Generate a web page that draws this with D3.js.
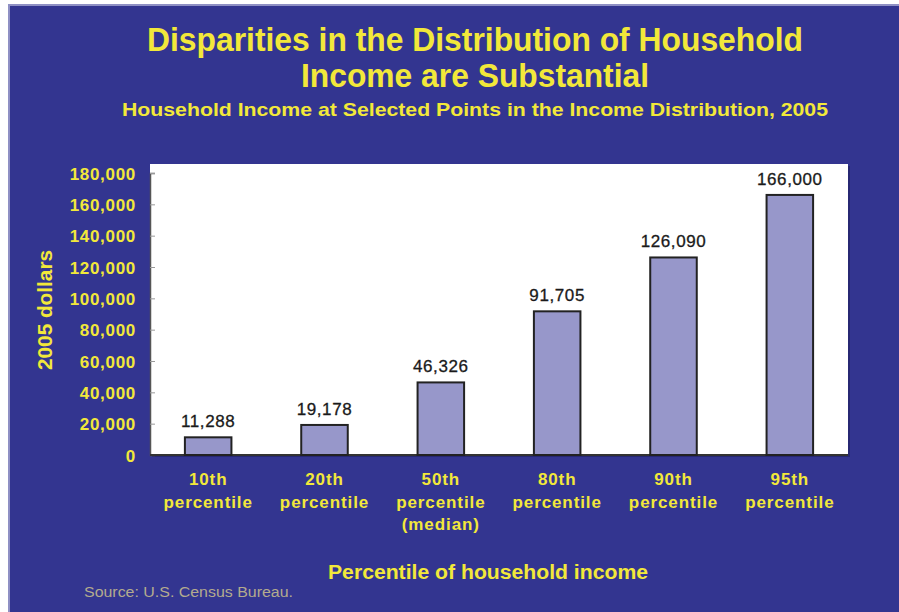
<!DOCTYPE html>
<html>
<head>
<meta charset="utf-8">
<script src="https://cdn.jsdelivr.net/npm/d3@7"></script>
<style>
  html, body { margin: 0; padding: 0; background: #ffffff; }
  svg { display: block; }
</style>
</head>
<body>
<svg id="chart" width="899" height="612"></svg>
<script>
// Household income at selected points of the 2005 distribution
const categories = ["10th", "20th", "50th", "80th", "90th", "95th"];
const categoryLines = [
  ["10th", "percentile"],
  ["20th", "percentile"],
  ["50th", "percentile", "(median)"],
  ["80th", "percentile"],
  ["90th", "percentile"],
  ["95th", "percentile"]
];
const incomes = [11288, 19178, 46326, 91705, 126090, 166000];
const yTicks = [0, 20000, 40000, 60000, 80000, 100000, 120000, 140000, 160000, 180000];

const titleLines = ["Disparities in the Distribution of Household", "Income are Substantial"];
const subtitle = "Household Income at Selected Points in the Income Distribution, 2005";
const yTitle = "2005 dollars";
const xTitle = "Percentile of household income";
const source = "Source: U.S. Census Bureau.";

const W = 899, H = 612;
const YELLOW = "#f2e83a";
const BG = "#333590";
const FONT = "Liberation Sans, Arial, sans-serif";

const svg = d3.select("#chart");

// Blue panel with a soft light edge on top and left
svg.append("rect").attr("x", 8).attr("y", 4).attr("width", W - 8).attr("height", H - 4)
  .attr("fill", "#8f90c4");
svg.append("rect").attr("x", 10).attr("y", 6).attr("width", W - 10).attr("height", H - 6)
  .attr("fill", BG);

// Plot frame
const plot = { left: 150, right: 848, top: 164, bottom: 455 };

const x = d3.scaleBand()
  .domain(categories)
  .range([plot.left, plot.right])
  .paddingInner(0.6)
  .paddingOuter(0.3);

const y = d3.scaleLinear()
  .domain([0, 180000])
  .range([plot.bottom, 173]);

// Shadow and white plot area
svg.append("rect")
  .attr("x", plot.left + 2).attr("y", plot.top + 2)
  .attr("width", plot.right - plot.left).attr("height", plot.bottom - plot.top)
  .attr("fill", "#1f2060").attr("opacity", 0.6);
svg.append("rect")
  .attr("x", plot.left).attr("y", plot.top)
  .attr("width", plot.right - plot.left).attr("height", plot.bottom - plot.top)
  .attr("fill", "#ffffff");

// Y axis: inward grey ticks, yellow labels
const yAxis = d3.axisLeft(y)
  .tickValues(yTicks)
  .tickSize(-5)
  .tickPadding(14)
  .tickFormat(d3.format(","));
const gy = svg.append("g").attr("transform", `translate(${plot.left},0)`).call(yAxis);
gy.select(".domain").attr("stroke", "#555555").attr("stroke-width", 1.5);
gy.selectAll(".tick line").attr("stroke", "#999999").attr("stroke-width", 1);
gy.selectAll(".tick text")
  .attr("fill", YELLOW)
  .attr("font-family", FONT)
  .attr("font-weight", "bold")
  .attr("font-size", 17)
  .attr("letter-spacing", 0.7)
  .attr("dy", "0.36em");

// Baseline
svg.append("line")
  .attr("x1", plot.left).attr("x2", plot.right)
  .attr("y1", y(0)).attr("y2", y(0))
  .attr("stroke", "#333333").attr("stroke-width", 2);

// Bars
svg.append("g").selectAll("rect")
  .data(incomes)
  .join("rect")
  .attr("x", (d, i) => x(categories[i]))
  .attr("y", d => y(d))
  .attr("width", x.bandwidth())
  .attr("height", d => y(0) - y(d))
  .attr("fill", "#9797ca")
  .attr("stroke", "#222222")
  .attr("stroke-width", 2);

// Value labels
svg.append("g").selectAll("text")
  .data(incomes)
  .join("text")
  .attr("x", (d, i) => x(categories[i]) + x.bandwidth() / 2)
  .attr("y", d => y(d) - 10)
  .attr("text-anchor", "middle")
  .attr("font-family", FONT)
  .attr("font-size", 17)
  .attr("letter-spacing", 0.6)
  .attr("stroke", "#1a1a1a")
  .attr("stroke-width", 0.3)
  .attr("fill", "#1a1a1a")
  .text(d => d3.format(",")(d));

// Category labels (multi-line)
const xl = svg.append("g").selectAll("text")
  .data(categoryLines)
  .join("text")
  .attr("x", (d, i) => x(categories[i]) + x.bandwidth() / 2)
  .attr("y", 485)
  .attr("text-anchor", "middle")
  .attr("font-family", FONT)
  .attr("font-weight", "bold")
  .attr("font-size", 17)
  .attr("letter-spacing", 0.9)
  .attr("fill", YELLOW);
xl.selectAll("tspan")
  .data(d => d)
  .join("tspan")
  .attr("x", function () { return d3.select(this.parentNode).attr("x"); })
  .attr("dy", (d, i) => i === 0 ? 0 : 22.5)
  .text(d => d);

// Titles
const titleY = [51, 87];
svg.append("g").selectAll("text")
  .data(titleLines)
  .join("text")
  .attr("x", 475)
  .attr("y", (d, i) => titleY[i])
  .attr("text-anchor", "middle")
  .attr("font-family", FONT)
  .attr("font-weight", "bold")
  .attr("font-size", 33)
  .attr("fill", YELLOW)
  .attr("textLength", (d, i) => i === 0 ? 656 : 348)
  .attr("lengthAdjust", "spacingAndGlyphs")
  .text(d => d);

svg.append("text")
  .attr("x", 475).attr("y", 116)
  .attr("text-anchor", "middle")
  .attr("font-family", FONT)
  .attr("font-weight", "bold")
  .attr("font-size", 19)
  .attr("fill", YELLOW)
  .attr("textLength", 706)
  .attr("lengthAdjust", "spacingAndGlyphs")
  .text(subtitle);

// Axis titles
svg.append("text")
  .attr("transform", "translate(52,310) rotate(-90)")
  .attr("text-anchor", "middle")
  .attr("font-family", FONT)
  .attr("font-weight", "bold")
  .attr("font-size", 20)
  .attr("fill", YELLOW)
  .attr("textLength", 120)
  .attr("lengthAdjust", "spacingAndGlyphs")
  .text(yTitle);

svg.append("text")
  .attr("x", 488).attr("y", 579)
  .attr("text-anchor", "middle")
  .attr("font-family", FONT)
  .attr("font-weight", "bold")
  .attr("font-size", 20)
  .attr("fill", YELLOW)
  .attr("textLength", 320)
  .attr("lengthAdjust", "spacingAndGlyphs")
  .text(xTitle);

// Source note
svg.append("text")
  .attr("x", 84).attr("y", 597)
  .attr("font-family", FONT)
  .attr("font-size", 14)
  .attr("fill", "#b3ab8e")
  .attr("textLength", 209)
  .attr("lengthAdjust", "spacingAndGlyphs")
  .text(source);
</script>
</body>
</html>
